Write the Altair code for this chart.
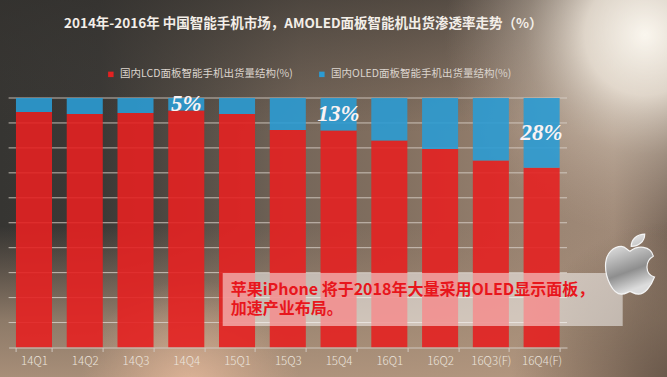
import altair as alt
import pandas as pd

# ---------------- data ----------------
quarters = ["14Q1", "14Q2", "14Q3", "14Q4", "15Q1", "15Q3", "15Q4",
            "16Q1", "16Q2", "16Q3(F)", "16Q4(F)"]
lcd_share = [94.4, 93.6, 94.0, 95.0, 93.6, 87.2, 87.0, 83.0, 79.6, 75.0, 72.0]
oled_share = [5.6, 6.4, 6.0, 5.0, 6.4, 12.8, 13.0, 17.0, 20.4, 25.0, 28.0]
series_names = ["国内LCD面板智能手机出货量结构(%)", "国内OLED面板智能手机出货量结构(%)"]
series_colors = ["#e42121", "#2b9bd3"]
callout_quarters = ["14Q4", "15Q4", "16Q4(F)"]
callout_labels = ["5%", "13%", "28%"]
grid_values = [10, 20, 30, 40, 50, 60, 70, 80, 90, 100]
title_text = "2014年-2016年 中国智能手机市场，AMOLED面板智能机出货渗透率走势（%）"
note_lines = ["苹果iPhone 将于2018年大量采用OLED显示面板，", "加速产业布局。"]

rows = []
for q, l, o in zip(quarters, lcd_share, oled_share):
    rows.append({"quarter": q, "series": series_names[0], "value": l, "order": 0})
    rows.append({"quarter": q, "series": series_names[1], "value": o, "order": 1})
df = pd.DataFrame(rows)

callouts = pd.DataFrame({
    "quarter": callout_quarters,
    "label": callout_labels,
    "oled": [oled_share[quarters.index(q)] for q in callout_quarters],
})
grid_df = pd.DataFrame({"v": grid_values})
one = pd.DataFrame({"k": [0]})

# ---------------- layout ----------------
PAD_L, PAD_T, PAD_R, PAD_B = 8.6, 98, 100, 29.5
W, H = 667 - PAD_L - PAD_R, 377 - PAD_T - PAD_B
FONT = "Noto Sans CJK SC"

y_scale = alt.Scale(domain=[0, 100])
x_enc = alt.X("quarter:N", sort=quarters,
              scale=alt.Scale(paddingInner=0.29, paddingOuter=0.145),
              axis=alt.Axis(title=None, labelAngle=0, labelColor="#ece5de",
                            labelFont=FONT, labelFontSize=11.5, labelFontWeight=300,
                            labelPadding=4, tickSize=4, tickColor="#cfc7bf",
                            domainColor="#cfc7bf", tickBand="extent",
                            grid=False, zindex=1))


def bg_rect(fill):
    return alt.Chart(one).mark_rect(fill=fill).encode(
        x=alt.value(-PAD_L), x2=alt.value(667 - PAD_L),
        y=alt.value(-PAD_T), y2=alt.value(377 - PAD_T))


def stops(pairs):
    return [{"offset": o, "color": c} for o, c in pairs]


bg_h = bg_rect({"gradient": "linear", "x1": 0, "y1": 0, "x2": 1, "y2": 0,
                "stops": stops([(0, "#363532"), (0.15, "#3b3936"), (0.3, "#574f47"),
                                (0.45, "#76675a"), (0.6, "#837060"), (0.8, "#9a8472"),
                                (0.92, "#a08a78"), (1, "#7a685a")])})
bg_v = bg_rect({"gradient": "linear", "x1": 0, "y1": 0, "x2": 0, "y2": 1,
                "stops": stops([(0, "rgba(50,48,45,0.6)"), (0.35, "rgba(60,56,52,0)"),
                                (0.6, "rgba(160,135,115,0)"), (0.85, "rgba(170,145,122,0.75)"),
                                (1, "rgba(180,152,128,0.9)")])})
glow_tr = bg_rect({"gradient": "radial", "x1": 0.967, "y1": 0.27, "r1": 0,
                   "x2": 0.967, "y2": 0.27, "r2": 0.3,
                   "stops": stops([(0, "rgba(250,246,238,1)"), (0.3, "rgba(238,229,217,0.88)"),
                                   (0.6, "rgba(205,190,175,0.45)"), (1, "rgba(185,165,150,0)")])})
glow_b = bg_rect({"gradient": "radial", "x1": 0.285, "y1": 0.802, "r1": 0,
                  "x2": 0.285, "y2": 0.802, "r2": 0.165,
                  "stops": stops([(0, "rgba(232,188,158,0.85)"), (1, "rgba(220,175,145,0)")])})
dark_br = bg_rect({"gradient": "radial", "x1": 1.02, "y1": 0.802, "r1": 0,
                   "x2": 1.02, "y2": 0.802, "r2": 0.255,
                   "stops": stops([(0, "rgba(80,66,56,0.8)"), (1, "rgba(80,66,56,0)")])})

grid = alt.Chart(grid_df).mark_rule(color="#d8d0c8", strokeWidth=1, opacity=0.85).encode(
    y=alt.Y("v:Q", scale=y_scale, axis=None),
    x=alt.value(0), x2=alt.value(W))

bars = alt.Chart(df).mark_bar(opacity=0.9).encode(
    x=x_enc,
    y=alt.Y("value:Q", stack="zero", scale=y_scale, axis=None),
    color=alt.Color("series:N",
                    scale=alt.Scale(domain=series_names, range=series_colors),
                    legend=alt.Legend(title=None, orient="none", legendX=97, legendY=-29,
                                      direction="horizontal", symbolType="square",
                                      symbolSize=30, labelFont=FONT, labelFontSize=10.5,
                                      labelColor="#dcd5ce", columnPadding=23,
                                      labelOffset=4, labelLimit=400, symbolOpacity=1)),
    order=alt.Order("order:Q"),
)

callout_text = alt.Chart(callouts).transform_calculate(
    ypos="100 - datum.oled / 2"
).mark_text(font="Liberation Serif", fontStyle="italic", fontWeight="bold",
            fontSize=23, color="#fbf3f3", baseline="middle", align="center").encode(
    x=x_enc,
    y=alt.Y("ypos:Q", scale=y_scale, axis=None),
    text="label:N")

note_box = alt.Chart(one).mark_rect(fill="#ffffff", opacity=0.5).encode(
    x=alt.value(222.7 - PAD_L), x2=alt.value(622.7 - PAD_L),
    y=alt.value(273 - PAD_T), y2=alt.value(326 - PAD_T))


def note_line(txt, y_center):
    return alt.Chart(one).mark_text(
        text=txt, align="left", baseline="middle", font=FONT,
        fontWeight="bold", fontSize=16, color="#e8161c").encode(
        x=alt.value(230.7 - PAD_L), y=alt.value(y_center - PAD_T))


note1 = note_line(note_lines[0], 290)
note2 = note_line(note_lines[1], 309)

apple_path = ("M 0 -0.6 C 0.3 -0.85 0.85 -0.85 0.95 -0.4 "
              "C 0.6 -0.2 0.6 0.35 1.0 0.45 "
              "C 0.85 0.85 0.6 1.15 0.35 1.15 "
              "C 0.15 1.15 0.1 1.05 0 1.05 "
              "C -0.1 1.05 -0.15 1.15 -0.35 1.15 "
              "C -0.7 1.15 -1.0 0.5 -1.0 0.0 "
              "C -1.0 -0.55 -0.65 -0.8 -0.35 -0.8 "
              "C -0.2 -0.8 -0.1 -0.65 0 -0.6 Z "
              "M 0.05 -0.8 C 0.05 -1.1 0.3 -1.3 0.6 -1.3 "
              "C 0.6 -1.0 0.35 -0.8 0.05 -0.8 Z")
apple_fill = {"gradient": "linear", "x1": 0, "y1": 0, "x2": 0.3, "y2": 1,
              "stops": stops([(0, "#fbfbfb"), (0.35, "#c8c8c8"), (0.7, "#8e8e8e"),
                              (1, "#dcdcdc")])}
apple = alt.Chart(one).mark_point(shape=apple_path, size=2400, filled=True,
                                  fill=apple_fill, stroke="#f4f4f4", strokeWidth=1.2,
                                  opacity=1).encode(
    x=alt.value(630 - PAD_L), y=alt.value(266 - PAD_T))

chart = alt.layer(
    bg_h, bg_v, glow_tr, glow_b, dark_br, grid, bars, callout_text,
    note_box, note1, note2, apple
).properties(
    width=W, height=H,
    padding={"left": PAD_L, "top": PAD_T, "right": PAD_R, "bottom": PAD_B},
    autosize=alt.AutoSizeParams(type="none"),
    background="#3a3936",
    title=alt.TitleParams(text=title_text, anchor="start", frame="group",
                          dx=64 - PAD_L, offset=-37, baseline="middle",
                          font=FONT, fontSize=13.5, fontWeight="bold",
                          color="#f3eee8"),
).configure_view(stroke=None)

chart.save("out.html", embed_options={"renderer": "svg", "actions": False})
